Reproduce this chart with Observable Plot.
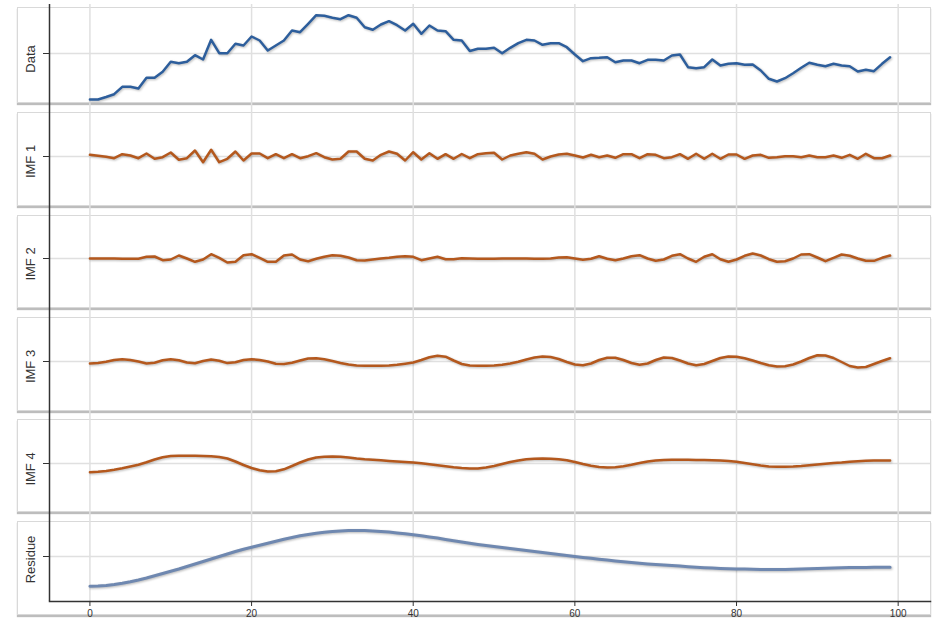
<!DOCTYPE html>
<html>
<head>
<meta charset="utf-8">
<script src="https://cdn.jsdelivr.net/npm/d3@7"></script>
<script src="https://cdn.jsdelivr.net/npm/@observablehq/plot@0.6"></script>
<style>
  body { margin: 0; background: #fff; font-family: "Liberation Sans", Arial, sans-serif; }
  #chart { position: relative; width: 937px; height: 621px; overflow: hidden; }
  .panel { position: absolute; left: 0; width: 937px; }
  .box { position: absolute; left: 17px; width: 914px; border: 1px solid #d9d9d9; box-sizing: border-box;
         box-shadow: 0 2px 1px #bdbdbd; background: #fff; }
  .panel svg { position: absolute; left: 0; top: 0; }
  g[aria-label="line"] path { filter: drop-shadow(1px 1.5px 1px rgba(0,0,0,0.28)); }
</style>
</head>
<body>
<div id="chart"></div>
<script>
// x positions (sample index)
const steps = Array.from({length: 100}, (_, i) => i);
const xTicks = [0, 20, 40, 60, 80, 100];
const panelLabels = ["Data", "IMF 1", "IMF 2", "IMF 3", "IMF 4", "Residue"];

const dataValues = [
  -46, -46, -43.5, -40.7, -33.3, -33.3, -35, -24.3, -24.3, -18.3,
  -8.3, -9.7, -8.3, -1.7, -6, 13.7, 0.3, 0.3, 9.7, 8,
  17, 13, 3, 8, 13, 23, 21.3, 29.7, 38.3, 37.7,
  35.7, 34.3, 38.3, 35.7, 26.3, 23.7, 29, 32.3, 28.3, 23,
  29.7, 19.7, 28, 23, 22.3, 13.7, 13, 2.5, 4.7, 4.7,
  5.7, 0.3, 5.7, 10.3, 13.7, 13, 8.7, 10.3, 10.3, 6.3,
  -1, -7.7, -4.7, -4.3, -3.7, -8.7, -7, -7, -9.7, -6.3,
  -6.3, -7, -2, -1, -13.7, -14.7, -13.7, -6, -12, -10.3,
  -9.7, -11.3, -11, -17, -25.3, -28, -24.7, -19.7, -14.3, -9.3,
  -11.3, -12.7, -10.3, -12, -12.7, -18, -16.3, -17.7, -10.3, -3.7
];
const imf1Values = [
  1.7, 0.7, -0.3, -1.7, 2.3, 1, -1.7, 3, -2.3, -0.7,
  4, -3.3, -1.7, 6, -5.7, 6.7, -5.7, -2.3, 5, -4,
  3, 3, -1.7, 2.3, -1.7, 2.3, -1.7, 0.3, 3.3, -0.7,
  -3, -2.3, 5, 5, -2.3, -4, 1.7, 5, 2.7, -4,
  4.3, -3, 3.3, -2.3, 2.3, -2.3, 2.5, -1.7, 2.3, 3.3,
  3.7, -3, 1, 2.7, 4.3, 2.7, -3, 0, 2, 2.7,
  1, -1, 1.7, -0.7, 1, -1.3, 2.3, 2.3, -1.7, 2.3,
  1.7, -1.7, -0.7, 2.3, -2.3, 2.7, -2.3, 2.7, -2.3, 2,
  2, -2.3, 1, 1.7, -1.3, -0.7, 0.3, 0.3, -0.7, 1,
  -0.7, -0.7, 1, -1.3, 1.7, -2.3, 2.7, -1.7, -1.7, 1
];
const imf2Values = [
  0, 0, 0, 0, -0.3, -0.3, -0.3, 1.7, 2, -1.7,
  -1, 3, 0, -3.3, -1, 4.3, 0.7, -4, -3.3, 3.3,
  4.3, 0.7, -3.3, -3.3, 3, 4, -1, -2.7, -0.3, 1.7,
  3.3, 2.7, 1, -1.7, -2, -1, 0, 0.7, 1.7, 2.3,
  1.7, -1.7, 0, 1.7, -0.7, -0.7, 0.3, 0, -0.3, -0.3,
  -0.3, 0, 0, 0, 0, -0.3, -0.3, 0, 1, 1.3,
  0, -1.3, -0.3, 2.3, -0.3, -1.7, 0, 2.3, 3.3, 0,
  -2.3, -1, 2.7, 4.3, 0, -3.3, 1.7, 4.3, -0.7, -3.3,
  -1, 2.7, 5, 3, -0.7, -3.3, -2.7, 0, 4, 4.3,
  1, -2.7, 0.7, 4, 2.7, 0, -2.3, -2.3, 0.7, 3
];
const imf3Values = [
  -2, -1.5, -0.3, 1.5, 2.3, 1.6, 0, -2, -1.2, 1.2,
  2.3, 1.2, -1, -1.7, 0.5, 2, 0.8, -1.6, -0.8, 1.5,
  2.3, 1.6, 0, -2.2, -2.6, -1.3, 1, 3, 3.2, 2.2,
  0.5, -1.5, -3, -3.9, -4.3, -4.3, -4.2, -3.9, -3.3, -2.2,
  -1, 1.5, 4.2, 5.7, 4.8, 1, -2.5, -4, -4.3, -4.3,
  -4, -3.3, -2, -0.3, 2, 4, 5, 4.5, 2.5, -0.5,
  -3, -3.7, -2, 1.5, 3.8, 3.8, 1.5, -1.5, -3.3, -2,
  1.5, 4, 3.5, 1, -2, -3.7, -2.5, 0.5, 3.5, 5,
  4.8, 3.3, 1, -1.5, -3.8, -5, -4.8, -3, 0, 3.5,
  6.2, 6, 3.5, -0.5, -4.5, -6, -5.5, -2.5, 0.5, 3.3
];
const imf4Values = [
  -8.7, -8.3, -7.5, -6.3, -4.8, -3, -1.2, 1.2, 4, 6.3,
  7.5, 7.8, 7.8, 7.7, 7.6, 7.3, 6.6, 5, 2, -1.5,
  -4.5, -6.8, -8, -7.8, -5.8, -2.5, 1, 4, 6, 6.8,
  7, 6.8, 6, 5, 4.3, 3.8, 3.2, 2.6, 2, 1.5,
  1, 0.2, -0.8, -1.8, -2.8, -3.8, -4.5, -5, -5, -4,
  -2.5, -0.5, 1.5, 3, 4.2, 4.8, 5, 4.8, 4.2, 3.2,
  1.5, -0.5, -2.3, -3.5, -4, -3.8, -2.8, -1.3, 0.5, 2,
  3, 3.5, 3.7, 3.7, 3.7, 3.6, 3.5, 3.3, 3, 2.5,
  1.7, 0.5, -0.7, -2, -3, -3.3, -3.3, -3, -2.5, -1.8,
  -1, -0.3, 0.5, 1, 1.7, 2.3, 2.8, 3, 3, 3
];
const residueValues = [
  -29.7, -29.5, -29, -28, -26.8, -25.3, -23.5, -21.5, -19.3, -17,
  -14.8, -12.5, -10, -7.5, -5, -2.5, 0, 2.5, 5, 7.3,
  9.3, 11.3, 13.3, 15.3, 17.3, 19, 20.7, 22, 23.2, 24.2,
  25, 25.6, 26, 26.1, 26, 25.6, 25, 24.4, 23.6, 22.7,
  21.7, 20.7, 19.6, 18.4, 17.1, 15.8, 14.5, 13.3, 12.1, 11,
  9.9, 8.9, 7.9, 7, 6, 5.1, 4.1, 3.1, 2.1, 1,
  0, -0.9, -1.8, -2.7, -3.6, -4.5, -5.3, -6.1, -6.8, -7.4,
  -7.9, -8.5, -9, -9.6, -10.2, -10.7, -11.2, -11.6, -11.9, -12.2,
  -12.4, -12.6, -12.8, -12.9, -13, -13, -12.9, -12.7, -12.5, -12.2,
  -11.9, -11.7, -11.5, -11.3, -11.1, -11, -10.9, -10.8, -10.7, -10.7
];

const seriesList = [dataValues, imf1Values, imf2Values, imf3Values, imf4Values, residueValues];
const colors = ["#2d5e9c", "#b4581d", "#b4581d", "#b4581d", "#b4581d", "#6f88b0"];

// layout per panel
const layout = [
  {top: 4,   height: 103, domain: [-54, 49], boxTop: 3, boxH: 96},
  {top: 107, height: 102, domain: [-53, 49], boxTop: 5, boxH: 94},
  {top: 209, height: 103, domain: [-54, 49], boxTop: 6, boxH: 93},
  {top: 312, height: 102, domain: [-53, 49], boxTop: 5, boxH: 94},
  {top: 414, height: 103, domain: [-54, 49], boxTop: 5, boxH: 93},
  {top: 517, height: 104, domain: [-45, 39], boxTop: 4, boxH: 94, last: true}
];

const chart = document.getElementById("chart");

layout.forEach((L, k) => {
  const rows = steps.map((t, i) => ({t, v: seriesList[k][i]}));
  const panel = document.createElement("div");
  panel.className = "panel";
  panel.style.top = L.top + "px";
  panel.style.height = L.height + "px";
  const box = document.createElement("div");
  box.className = "box";
  box.style.top = L.boxTop + "px";
  box.style.height = L.boxH + "px";
  panel.appendChild(box);

  const marks = [
    Plot.ruleX(xTicks, {stroke: "#e0e0e0", strokeWidth: 1.5}),
    Plot.ruleY([0], {stroke: "#e0e0e0", strokeWidth: 1.5}),
    Plot.ruleX([-5], {stroke: "#333", strokeWidth: 1.5}),
    Plot.axisY({ticks: [0], tickSize: 6, tickFormat: () => "", label: null, stroke: "#333"}),
    Plot.text([panelLabels[k]], {frameAnchor: "left", textAnchor: "middle", dx: -18.5, dy: L.last ? 0 : 3, rotate: -90, fontSize: 13, fill: "#333"}),
    Plot.line(rows, {x: "t", y: "v", stroke: colors[k], strokeWidth: k === 5 ? 3 : 2.5})
  ];
  if (L.last) {
    marks.push(Plot.frame({anchor: "bottom", stroke: "#333", strokeWidth: 1.5}));
    marks.push(Plot.axisX({ticks: xTicks, tickSize: 5, tickPadding: 3, fontSize: 10, label: null, stroke: "#333", fill: "#333"}));
  }
  const svg = Plot.plot({
    width: 937,
    height: L.height,
    marginLeft: 49,
    marginRight: 7,
    marginTop: 0,
    marginBottom: L.last ? 20 : 0,
    x: {domain: [-5, 104], axis: L.last ? undefined : null},
    y: {domain: L.domain},
    style: {background: "transparent", fontFamily: "Liberation Sans, Arial, sans-serif", overflow: "visible"},
    marks
  });
  panel.appendChild(svg);
  chart.appendChild(panel);
});
</script>
</body>
</html>
